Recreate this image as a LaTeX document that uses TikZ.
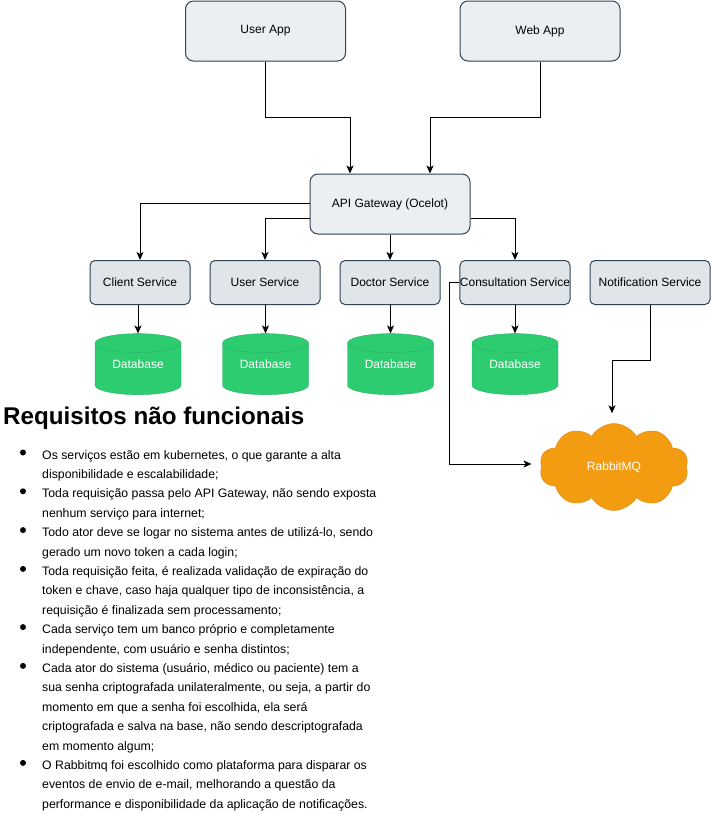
\documentclass[tikz,border=0pt]{standalone}
\usepackage{fontspec}
\setmainfont{Liberation Sans}
\usetikzlibrary{arrows.meta,shapes.geometric,shapes.symbols}
\definecolor{boxfill}{HTML}{ECEFF1}
\definecolor{svcfill}{HTML}{DFE5E9}
\definecolor{boxline}{HTML}{314354}
\definecolor{dbfill}{HTML}{2ECC71}
\definecolor{dbline}{HTML}{27B062}
\definecolor{mqfill}{HTML}{F39C12}
\definecolor{mqline}{HTML}{DC8A0E}
\begin{document}
\begin{tikzpicture}[x=1pt,y=-1pt,
    every node/.style={font=\fontsize{12}{14}\selectfont},
    app/.style={draw=boxline,fill=boxfill,line width=1pt,rounded corners=8pt,
        minimum width=160pt,minimum height=60pt,inner sep=0pt},
    svc/.style={draw=boxline,fill=svcfill,line width=1pt,rounded corners=5pt,
        minimum height=44pt,inner sep=0pt},
    db/.style={cylinder,shape border rotate=90,aspect=0.37,draw=dbline,fill=dbfill,
        minimum width=86pt,minimum height=61pt,text=white,inner sep=0pt,
        text height=0pt,text depth=1.4pt},
    mq/.style={cloud,cloud puffs=10,cloud puff arc=120,draw=mqline,fill=mqfill,
        minimum width=149pt,minimum height=87pt,text=white,inner sep=0pt},
    flow/.style={line width=1pt,-{Stealth[length=8pt,width=7pt,inset=2pt]}},
    reqline/.style={anchor=base west,inner sep=0pt,font=\fontsize{12.3}{14}\selectfont},
    dot/.style={circle,fill=black,minimum size=6pt,inner sep=0pt}]
\useasboundingbox (0,0) rectangle (711,814);
\node[app] (userapp) at (265.5,31) {User App};
\node[app] (webapp) at (540,31) {Web App};
\node[app] (gateway) at (390,204) {API Gateway (Ocelot)};
\node[svc,minimum width=100pt] (client) at (140,282.5) {Client Service};
\node[svc,minimum width=110pt] (usersvc) at (265,282.5) {User Service};
\node[svc,minimum width=100pt] (doctor) at (390,282.5) {Doctor Service};
\node[svc,minimum width=110pt] (consult) at (515,282.5) {Consultation Service};
\node[svc,minimum width=120pt] (notif) at (650,282.5) {Notification Service};
\node[db] (dbclient) at (138,369) {Database};
\node[db] (dbuser) at (265.5,369) {Database};
\node[db] (dbdoctor) at (390.5,369) {Database};
\node[db] (dbconsult) at (515,369) {Database};
\node[mq] (rabbit) at (614,467) {RabbitMQ};
\draw[flow] (userapp.south) -- ++(0,56) -| ([xshift=-40pt]gateway.north);
\draw[flow] (webapp.south) -- ++(0,56) -| ([xshift=40pt]gateway.north);
\draw[flow] ([yshift=1pt]gateway.west) -| (client.north);
\draw[flow] ([yshift=-14pt]gateway.west) -| (usersvc.north);
\draw[flow] (gateway.south) -- (doctor.north);
\draw[flow] ([yshift=-14pt]gateway.east) -| (consult.north);
\draw[flow] (dbclient.north |- client.south) -- (dbclient.north);
\draw[flow] (dbuser.north |- usersvc.south) -- (dbuser.north);
\draw[flow] (dbdoctor.north |- doctor.south) -- (dbdoctor.north);
\draw[flow] (dbconsult.north |- consult.south) -- (dbconsult.north);
\draw[flow] (consult.west) -- ++(-10,0) |- ([xshift=-10pt,yshift=3pt]rabbit.west);
\draw[flow] (notif.south) -- ++(0,55) -| ([xshift=-2pt,yshift=10pt]rabbit.north);
\node[anchor=base west,inner sep=0pt,font=\bfseries\fontsize{24.2}{26}\selectfont] (title) at (3,424.5) {Requisitos não funcionais};
\foreach \n/\txt in {0/{Os serviços estão em kubernetes, o que garante a alta},
    1/{disponibilidade e escalabilidade;},
    2/{Toda requisição passa pelo API Gateway, não sendo exposta},
    3/{nenhum serviço para internet;},
    4/{Todo ator deve se logar no sistema antes de utilizá-lo, sendo},
    5/{gerado um novo token a cada login;},
    6/{Toda requisição feita, é realizada validação de expiração do},
    7/{token e chave, caso haja qualquer tipo de inconsistência, a},
    8/{requisição é finalizada sem processamento;},
    9/{Cada serviço tem um banco próprio e completamente},
    10/{independente, com usuário e senha distintos;},
    11/{Cada ator do sistema (usuário, médico ou paciente) tem a},
    12/{sua senha criptografada unilateralmente, ou seja, a partir do},
    13/{momento em que a senha foi escolhida, ela será},
    14/{criptografada e salva na base, não sendo descriptografada},
    15/{em momento algum;},
    16/{O Rabbitmq foi escolhido como plataforma para disparar os},
    17/{eventos de envio de e-mail, melhorando a questão da},
    18/{performance e disponibilidade da aplicação de notificações.}}
    \node[reqline] (req\n) at (42,{459+19.4*\n}) {\txt};
\foreach \n in {0,2,4,6,9,11,16}
    \node[dot] (bullet\n) at (23,{452.5+19.4*\n}) {};
\end{tikzpicture}
\end{document}
